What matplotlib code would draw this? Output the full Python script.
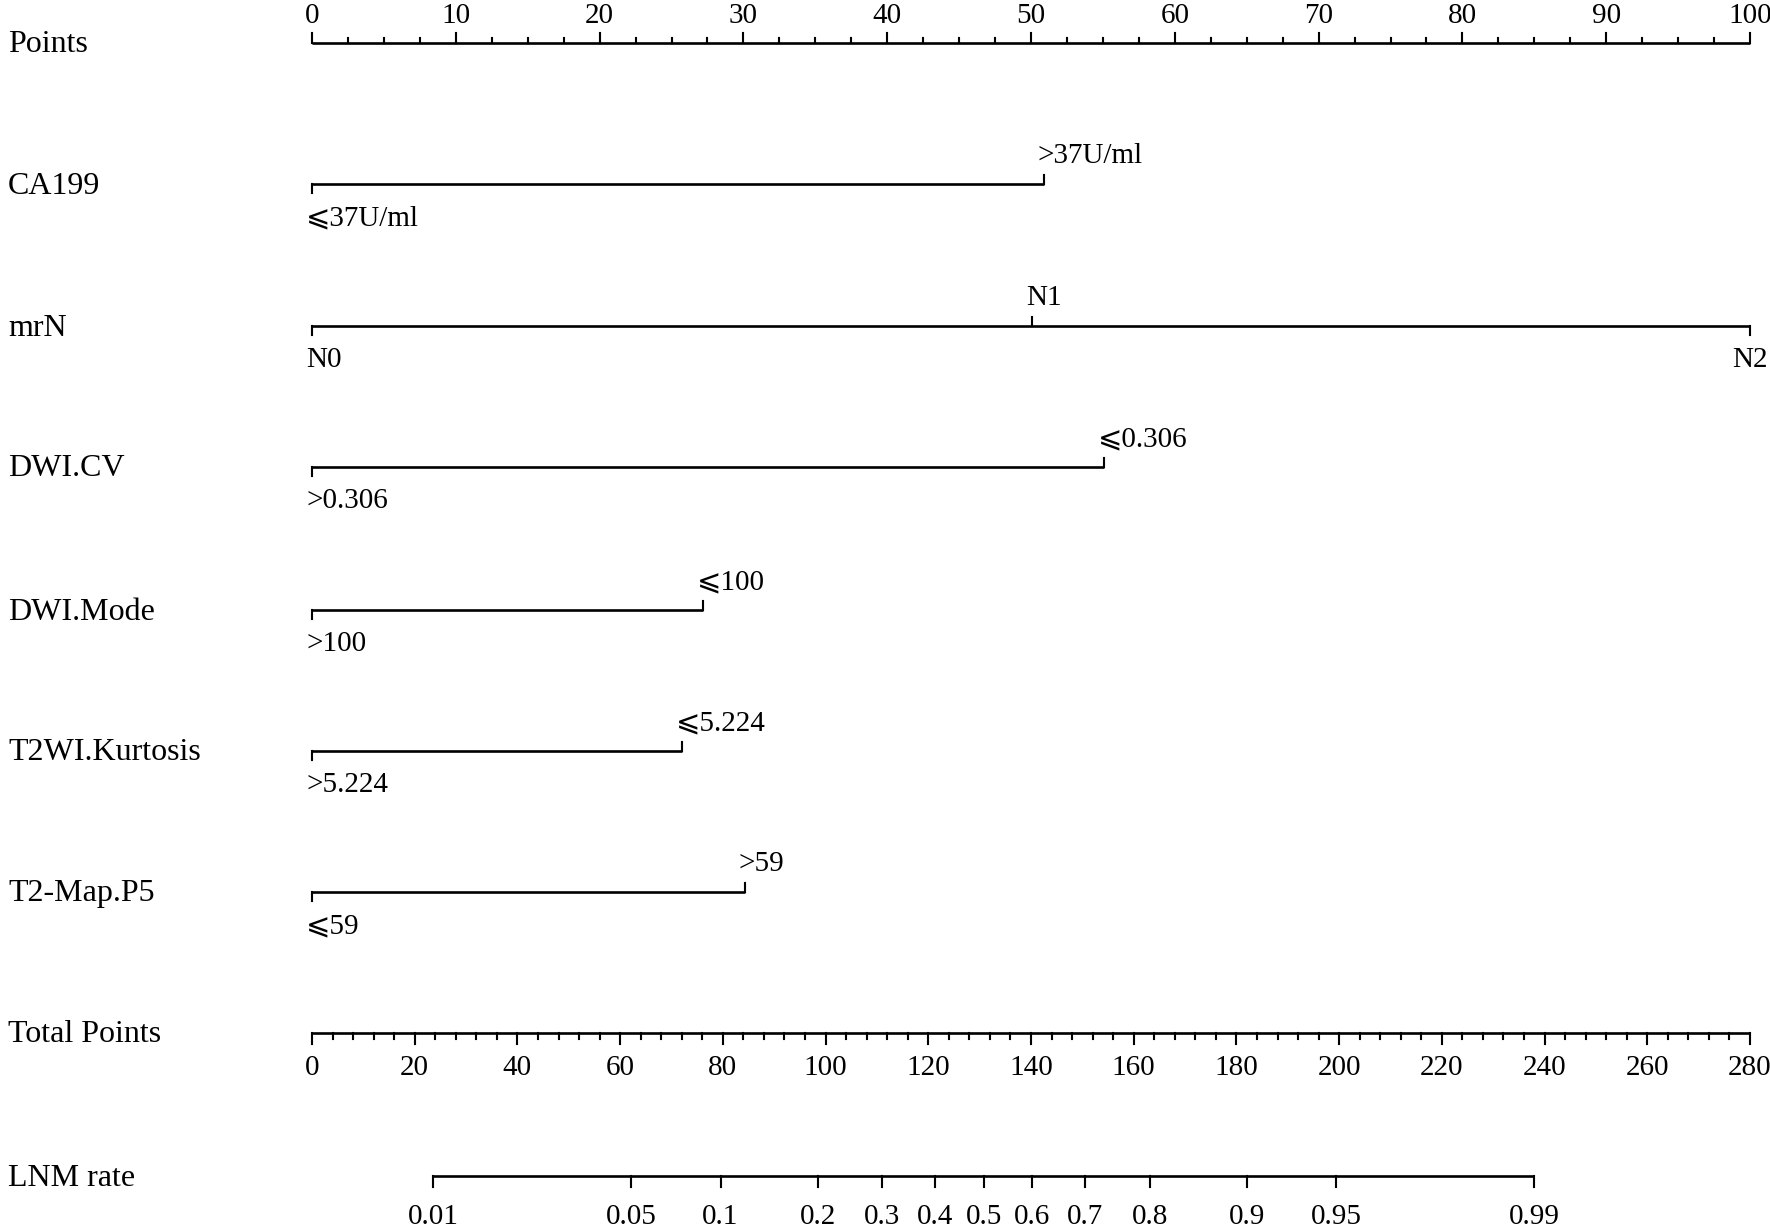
import numpy as np
import matplotlib
matplotlib.use("Agg")
import matplotlib.pyplot as plt
import matplotlib.transforms as mtransforms

plt.rcParams['font.family'] = ['Liberation Serif', 'DejaVu Serif', 'DejaVu Sans']

# ---------------- data ----------------
points_ticks = np.arange(0, 100.01, 2.5)
points_major = np.arange(0, 101, 10)

var_names = ['CA199', 'mrN', 'DWI.CV', 'DWI.Mode', 'T2WI.Kurtosis', 'T2-Map.P5']
ca199_levels = ['⩽37U/ml', '>37U/ml']
ca199_points = [0, 50.9]
mrn_levels = ['N0', 'N1', 'N2']
mrn_points = [0, 50.1, 100]
dwicv_levels = ['>0.306', '⩽0.306']
dwicv_points = [0, 55.1]
dwimode_levels = ['>100', '⩽100']
dwimode_points = [0, 27.2]
kurt_levels = ['>5.224', '⩽5.224']
kurt_points = [0, 25.7]
p5_levels = ['⩽59', '>59']
p5_points = [0, 30.1]

total_max = 280
total_ticks = np.arange(0, 281, 4)
total_major = np.arange(0, 281, 20)

lnm_probs = [0.01, 0.05, 0.1, 0.2, 0.3, 0.4, 0.5, 0.6, 0.7, 0.8, 0.9, 0.95, 0.99]
lnm_labels = ['0.01', '0.05', '0.1', '0.2', '0.3', '0.4', '0.5', '0.6', '0.7', '0.8', '0.9', '0.95', '0.99']
lp_intercept_tp = 130.8   # total points at probability 0.5
lp_slope = 0.04287        # logit per total point

# ---------------- layout ----------------
W, H = 1770, 1230
X0, X1 = 312, 1750
fig = plt.figure(figsize=(W / 100, H / 100), dpi=100)
ax = fig.add_axes([0, 0, 1, 1])
ax.set_xlim(-X0 / (X1 - X0) * 100, 100 + (W - X1) / (X1 - X0) * 100)
ax.set_ylim(H, 0)
ax.axis('off')

rows = [43, 184, 326, 467, 610, 751, 892, 1033, 1176]
fs = 21
lw = 1.9
col = 'black'
label_x = 8 / W

def left_label(text, y):
    ax.text(label_x, y + 2, text, transform=mtransforms.blended_transform_factory(ax.transAxes, ax.transData),
            ha='left', va='center', fontsize=fs + 2)

# Points axis
y = rows[0]
left_label('Points', y)
ax.plot([0, 100], [y, y], color=col, lw=lw, solid_capstyle='butt')
for t in points_ticks:
    major = np.isclose(t % 10, 0) or np.isclose(t % 10, 10)
    L = 10 if major else 5
    ax.plot([t, t], [y, y - L], color=col, lw=lw * 0.8)
for t in points_major:
    ax.text(t, y - 27, f'{int(t)}', ha='center', va='center', fontsize=fs)

# variable rows
var_levels = [ca199_levels, mrn_levels, dwicv_levels, dwimode_levels, kurt_levels, p5_levels]
var_points = [ca199_points, mrn_points, dwicv_points, dwimode_points, kurt_points, p5_points]
shift = mtransforms.offset_copy(ax.transData, fig=fig, x=-6, y=0, units='dots')
for i, (name, levs, pts) in enumerate(zip(var_names, var_levels, var_points)):
    y = rows[i + 1]
    left_label(name, y)
    ax.plot([min(pts), max(pts)], [y, y], color=col, lw=lw, solid_capstyle='butt')
    for j, (lab, p) in enumerate(zip(levs, pts)):
        above = (j % 2 == 1)
        L = 9
        ax.plot([p, p], [y, y - L if above else y + L], color=col, lw=lw * 0.8)
        ly = y - 28 if above else y + 34
        if p >= 100:
            ax.text(p, ly, lab, ha='center', va='center', fontsize=fs)
        else:
            ax.text(p, ly, lab, ha='left', va='center', fontsize=fs, transform=shift)

# Total points axis
y = rows[7]
left_label('Total Points', y)
scale = 100 / total_max
ax.plot([0, total_max * scale], [y, y], color=col, lw=lw, solid_capstyle='butt')
for t in total_ticks:
    major = t % 20 == 0
    L = 11 if major else 6
    ax.plot([t * scale, t * scale], [y, y + L], color=col, lw=lw * 0.8)
for t in total_major:
    ax.text(t * scale, y + 35, f'{int(t)}', ha='center', va='center', fontsize=fs)

# LNM rate axis
y = rows[8]
left_label('LNM rate', y)
probs = np.array(lnm_probs)
tp = lp_intercept_tp + np.log(probs / (1 - probs)) / lp_slope
xs = tp * scale
ax.plot([xs.min(), xs.max()], [y, y], color=col, lw=lw, solid_capstyle='butt')
for x, lab in zip(xs, lnm_labels):
    ax.plot([x, x], [y, y + 11], color=col, lw=lw * 0.8)
    ax.text(x, y + 41, lab, ha='center', va='center', fontsize=fs)

fig.savefig('out.png', dpi=100, facecolor='white')
